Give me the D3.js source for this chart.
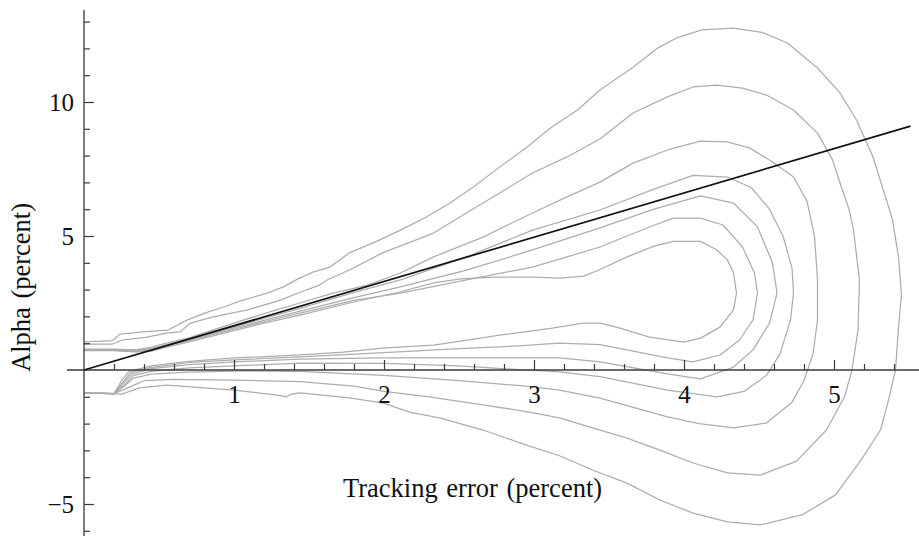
<!DOCTYPE html>
<html><head><meta charset="utf-8">
<script src="https://cdn.jsdelivr.net/npm/d3@7"></script>
<style>
html,body{margin:0;padding:0;background:#fff;}
svg{display:block;font-family:"Liberation Serif","Times New Roman",serif;}
</style></head>
<body>
<svg id="chart" width="919" height="536"></svg>
<script>
// ---- data (percent) ----
const xMajorTicks = [1, 2, 3, 4, 5];
const yMajorTicks = [-5, 5, 10];
const xLabel = "Tracking error (percent)";
const yLabel = "Alpha (percent)";
const regressionX = [0, 5.51];
const regressionY = [0, 9.1];

const contour1 = [[0,1.05],[0.19,1.1],[0.24,1.34],[0.39,1.42],[0.56,1.49],[0.69,1.87],[0.81,2.13],[0.93,2.35],[1.06,2.61],[1.22,2.87],[1.33,3.1],[1.42,3.38],[1.53,3.66],[1.64,3.84],[1.77,4.37],[1.95,4.8],[2.11,5.22],[2.28,5.7],[2.44,6.23],[2.6,6.85],[2.77,7.57],[2.95,8.3],[3.11,9.03],[3.29,9.7],[3.44,10.45],[3.66,11.3],[3.82,12.0],[3.95,12.39],[4.12,12.69],[4.33,12.76],[4.52,12.6],[4.69,12.2],[4.89,11.27],[5.04,10.34],[5.15,9.33],[5.26,7.95],[5.35,6.34],[5.39,5.6],[5.43,4.22],[5.45,2.8],[5.43,1.6],[5.41,0],[5.36,-1.2],[5.31,-2.24],[5.18,-3.36],[5.01,-4.66],[4.79,-5.4],[4.51,-5.78],[4.29,-5.67],[4.06,-5.34],[3.84,-4.85],[3.62,-4.22],[3.39,-3.73],[3.17,-3.2],[2.95,-2.8],[2.66,-2.24],[2.37,-1.79],[2.17,-1.57],[1.99,-1.23],[1.77,-1.04],[1.44,-0.85],[1.38,-0.9],[1.35,-1.0],[1.3,-0.95],[1.0,-0.75],[0.69,-0.62],[0.55,-0.56],[0.37,-0.67],[0.25,-0.9],[0,-0.85]];
const contour2 = [[0,0.97],[0.19,0.97],[0.26,1.12],[0.42,1.23],[0.55,1.38],[0.64,1.42],[0.71,1.75],[0.86,1.98],[1.09,2.24],[1.31,2.61],[1.44,2.9],[1.57,3.17],[1.62,3.36],[1.77,3.73],[1.99,4.37],[2.33,5.11],[2.66,6.23],[2.99,7.35],[3.22,7.95],[3.44,8.62],[3.66,9.59],[3.89,10.19],[4.06,10.56],[4.22,10.63],[4.39,10.52],[4.55,10.26],[4.73,9.7],[4.89,8.84],[4.99,7.84],[5.04,6.98],[5.1,6.0],[5.13,5.22],[5.17,3.36],[5.16,1.49],[5.12,0],[5.07,-1.0],[4.95,-2.24],[4.75,-3.4],[4.51,-3.92],[4.29,-3.84],[4.06,-3.47],[3.84,-2.99],[3.62,-2.54],[3.39,-2.16],[3.17,-1.79],[2.95,-1.55],[2.66,-1.3],[2.3,-1.0],[2.0,-0.8],[1.8,-0.6],[1.44,-0.43],[1.0,-0.38],[0.6,-0.35],[0.4,-0.4],[0.3,-0.65],[0.2,-0.88],[0,-0.85]];
const contour3 = [[0,0.78],[0.2,0.78],[0.35,0.75],[0.45,0.85],[0.55,1.0],[0.7,1.2],[1.0,1.75],[1.2,2.1],[1.44,2.5],[1.66,2.87],[1.89,3.17],[2.11,3.62],[2.33,4.22],[2.66,4.96],[2.99,5.86],[3.22,6.46],[3.44,7.01],[3.66,7.72],[3.89,8.21],[4.11,8.54],[4.29,8.51],[4.44,8.28],[4.59,7.76],[4.73,7.2],[4.82,6.3],[4.87,5.0],[4.89,3.36],[4.89,1.87],[4.86,0.6],[4.8,-0.4],[4.72,-1.2],[4.55,-1.98],[4.33,-2.16],[4.1,-2.0],[3.89,-1.75],[3.44,-1.05],[3.17,-0.75],[2.95,-0.6],[2.5,-0.4],[2.0,-0.2],[1.44,-0.05],[1.0,-0.04],[0.7,-0.08],[0.45,-0.15],[0.33,-0.3],[0.27,-0.6],[0.2,-0.88],[0,-0.85]];
const contour4 = [[0,0.76],[0.2,0.76],[0.35,0.72],[0.45,0.8],[0.55,0.95],[0.7,1.15],[1.0,1.62],[1.44,2.3],[1.8,2.9],[2.11,3.36],[2.55,4.22],[2.99,5.22],[3.44,5.97],[3.8,6.75],[4.06,7.26],[4.29,7.2],[4.45,6.8],[4.57,6.0],[4.66,5.0],[4.72,3.8],[4.73,2.87],[4.71,1.87],[4.64,0.6],[4.55,-0.2],[4.4,-0.8],[4.22,-1.0],[3.89,-0.75],[3.44,-0.25],[3.17,-0.07],[2.95,0.0],[2.5,0.15],[2.0,0.25],[1.44,0.26],[1.0,0.15],[0.7,0.08],[0.45,-0.05],[0.33,-0.2],[0.27,-0.55],[0.2,-0.88],[0,-0.85]];
const contour5 = [[0,0.74],[0.2,0.74],[0.35,0.7],[0.45,0.78],[0.55,0.92],[0.7,1.12],[1.0,1.57],[1.2,1.85],[1.44,2.2],[1.8,2.7],[2.11,3.1],[2.55,3.73],[2.99,4.48],[3.44,5.3],[3.8,6.0],[4.11,6.5],[4.33,6.23],[4.49,5.34],[4.59,4.0],[4.62,2.87],[4.57,1.75],[4.46,0.75],[4.33,0.11],[4.11,-0.33],[3.9,-0.15],[3.44,0.3],[3.17,0.45],[2.5,0.45],[2.0,0.45],[1.44,0.41],[1.0,0.3],[0.7,0.2],[0.45,0.05],[0.32,-0.15],[0.26,-0.5],[0.2,-0.88],[0,-0.85]];
const contour6 = [[0,0.73],[0.2,0.73],[0.35,0.69],[0.45,0.75],[0.55,0.9],[0.7,1.1],[1.0,1.52],[1.2,1.8],[1.44,2.12],[1.8,2.6],[2.11,2.87],[2.55,3.36],[2.99,3.84],[3.22,4.22],[3.44,4.59],[3.62,5.0],[3.8,5.4],[3.93,5.67],[4.11,5.67],[4.26,5.41],[4.39,4.59],[4.47,3.62],[4.49,2.87],[4.46,1.87],[4.37,1.12],[4.24,0.56],[4.06,0.3],[3.89,0.45],[3.44,0.95],[3.17,1.0],[2.9,0.9],[2.5,0.8],[2.0,0.65],[1.44,0.49],[1.0,0.38],[0.7,0.28],[0.45,0.1],[0.31,-0.1],[0.26,-0.45],[0.2,-0.88],[0,-0.85]];
const contour7 = [[0,0.72],[0.2,0.72],[0.35,0.68],[0.45,0.7],[0.55,0.85],[0.7,1.05],[1.0,1.47],[1.2,1.75],[1.44,2.05],[1.77,2.5],[2.11,2.92],[2.33,3.25],[2.51,3.4],[2.73,3.47],[3.0,3.47],[3.17,3.43],[3.33,3.5],[3.44,3.75],[3.62,4.22],[3.8,4.62],[3.93,4.8],[4.11,4.8],[4.22,4.48],[4.29,4.1],[4.33,3.62],[4.35,2.87],[4.33,2.24],[4.24,1.6],[4.11,1.19],[4.0,1.04],[3.77,1.23],[3.55,1.6],[3.44,1.75],[3.33,1.75],[3.11,1.55],[2.77,1.3],[2.6,1.15],[2.33,0.93],[1.99,0.82],[1.73,0.67],[1.44,0.56],[1.0,0.45],[0.7,0.32],[0.45,0.15],[0.3,-0.05],[0.25,-0.4],[0.2,-0.88],[0,-0.85]];
const contours = [contour1, contour2, contour3, contour4, contour5, contour6, contour7];

// ---- layout ----
const svg = d3.select("#chart");
const x = d3.scaleLinear().domain([0, 5]).range([84, 834]);
const y = d3.scaleLinear().domain([0, 10]).range([370, 102]);
const xExtent = [x.invert(67), x.invert(919)];
const yExtent = [y.invert(536), y.invert(10)];
const axisColor = "#3a3a3a";

const line = d3.line().x(d => x(d[0])).y(d => y(d[1]));

// contours
svg.append("g").selectAll("path").data(contours).join("path")
  .attr("d", line)
  .attr("fill", "none")
  .attr("stroke", "#adadad")
  .attr("stroke-width", 1.25)
  .attr("stroke-linejoin", "round");

// axis lines
svg.append("line").attr("x1", x(xExtent[0])).attr("x2", x(xExtent[1]))
  .attr("y1", y(0)).attr("y2", y(0)).attr("stroke", axisColor).attr("stroke-width", 1.3);
svg.append("line").attr("x1", x(0)).attr("x2", x(0))
  .attr("y1", y(yExtent[0])).attr("y2", y(yExtent[1])).attr("stroke", axisColor).attr("stroke-width", 1.3);

// x ticks
const xMinor = d3.range(1, 28).map(i => +(i * 0.2).toFixed(1)).filter(v => !xMajorTicks.includes(v));
const xMinorAxis = d3.axisBottom(x).tickValues(xMinor).tickSizeInner(-6).tickSizeOuter(0).tickFormat("");
const gxm = svg.append("g").attr("transform", `translate(0,${y(0)})`).call(xMinorAxis);
const xMajorAxis = d3.axisBottom(x).tickValues(xMajorTicks).tickSizeInner(-10).tickSizeOuter(0).tickPadding(15).tickFormat(d3.format("d"));
const gxM = svg.append("g").attr("transform", `translate(0,${y(0)})`).call(xMajorAxis);

// y ticks
const yMinor = d3.range(-6, 14).filter(v => v !== 0 && !yMajorTicks.includes(v));
const yMinorAxis = d3.axisLeft(y).tickValues(yMinor).tickSizeInner(-6).tickSizeOuter(0).tickFormat("");
const gym = svg.append("g").attr("transform", `translate(${x(0)},0)`).call(yMinorAxis);
const yMajorAxis = d3.axisLeft(y).tickValues(yMajorTicks).tickSizeInner(-10).tickSizeOuter(0).tickPadding(10).tickFormat(d3.format("d"));
const gyM = svg.append("g").attr("transform", `translate(${x(0)},0)`).call(yMajorAxis);

[gxm, gxM, gym, gyM].forEach(g => {
  g.select(".domain").remove();
  g.selectAll(".tick line").attr("stroke", axisColor).attr("stroke-width", 1.2);
  g.selectAll(".tick text").attr("fill", "#111").attr("font-size", 25)
    .attr("font-family", "'Liberation Serif','Times New Roman',serif");
});

// regression line
svg.append("path")
  .attr("d", line(regressionX.map((v, i) => [v, regressionY[i]])))
  .attr("fill", "none").attr("stroke", "#111").attr("stroke-width", 1.7);

// axis titles
svg.append("text").attr("x", 343).attr("y", 497).attr("text-anchor", "start")
  .attr("font-size", 26.5).attr("fill", "#111").style("word-spacing", "2px").text(xLabel);
svg.append("text").attr("transform", "translate(30,372) rotate(-90)").attr("text-anchor", "start")
  .attr("font-size", 26.5).attr("fill", "#111").style("word-spacing", "2px").text(yLabel);
</script>
</body></html>
